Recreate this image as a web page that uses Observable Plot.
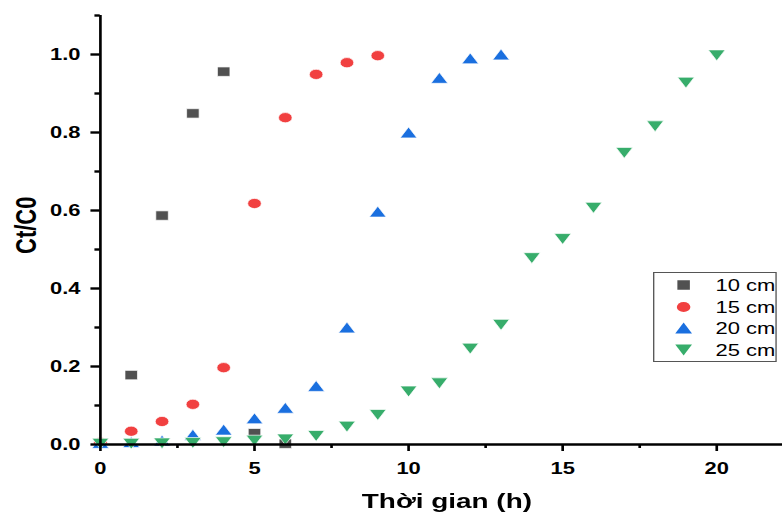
<!DOCTYPE html>
<html><head><meta charset="utf-8">
<script src="https://cdn.jsdelivr.net/npm/d3@7"></script>
<script src="https://cdn.jsdelivr.net/npm/@observablehq/plot@0.6"></script>
<style>
html,body{margin:0;padding:0;background:#fff;overflow:hidden;}
#wrap{position:relative;width:588px;height:513px;transform-origin:0 0;transform:scaleX(1.33);}
#legend{position:absolute;left:491px;top:272px;width:91px;height:88px;border:1px solid #555;background:#fff;box-sizing:content-box;font-family:"Liberation Sans",Arial,sans-serif;font-size:16.5px;color:#000;}
.row{position:absolute;left:0;height:22px;width:91px;}
.row svg{position:absolute;left:15px;top:4px;}
.row span{position:absolute;left:46px;top:2px;line-height:18px;white-space:nowrap;}
</style>
</head><body>
<div id="wrap"><div id="legend"></div></div>
<script>
// ---- data ----
const seriesNames = ["10 cm", "15 cm", "20 cm", "25 cm"];
const seriesColors = ["#515151", "#F14040", "#1A6FDF", "#37AD6B"];
const t10 = [1, 2, 3, 4, 5, 6];
const v10 = [0.178, 0.587, 0.849, 0.956, 0.029, 0.002];
const t15 = [0, 1, 2, 3, 4, 5, 6, 7, 8, 9];
const v15 = [0.005, 0.034, 0.059, 0.103, 0.197, 0.618, 0.838, 0.949, 0.979, 0.997];
const t20 = [0, 1, 2, 3, 4, 5, 6, 7, 8, 9, 10, 11, 12, 13];
const v20 = [0.004, 0.006, 0.01, 0.025, 0.038, 0.067, 0.094, 0.15, 0.30, 0.597, 0.80, 0.94, 0.99, 1.0];
const t25 = [0, 1, 2, 3, 4, 5, 6, 7, 8, 9, 10, 11, 12, 13, 14, 15, 16, 17, 18, 19, 20];
const v25 = [0.002, 0.002, 0.003, 0.004, 0.006, 0.01, 0.013, 0.022, 0.046, 0.076, 0.136, 0.157, 0.246, 0.307, 0.478, 0.527, 0.607, 0.748, 0.816, 0.928, 0.998];
const yMajor = [0, 0.2, 0.4, 0.6, 0.8, 1.0];
const yMinor = [0.1, 0.3, 0.5, 0.7, 0.9, 1.1];
const xMajor = [0, 5, 10, 15, 20];
const xMinor = [2.5, 7.5, 12.5, 17.5];
const xLabel = "Thời gian (h)";
const yLabel = "Ct/C0";

// ---- symbols ----
const symSquare = {draw(c){ c.rect(-4.7, -4.7, 9.4, 9.4); }};
const symCircle = {draw(c){ c.moveTo(5.1, 0); c.arc(0, 0, 5.1, 0, 2 * Math.PI); c.closePath(); }};
const symUp = {draw(c){ const w = 6.3, h = 10.8; c.moveTo(0, -h/2); c.lineTo(w, h/2); c.lineTo(-w, h/2); c.closePath(); }};
const symDown = {draw(c){ const w = 6.3, h = 10.8; c.moveTo(0, h/2); c.lineTo(w, -h/2); c.lineTo(-w, -h/2); c.closePath(); }};
const symbols = [symSquare, symCircle, symUp, symDown];

const series = [[t10, v10], [t15, v15], [t20, v20], [t25, v25]].map(([t, v], i) =>
  t.map((x, j) => ({t: x, v: v[j], s: seriesNames[i]})));

const W = 588;
const font = "'Liberation Sans', Arial, sans-serif";

const chart = Plot.plot({
  width: W, height: 513,
  marginLeft: 75, marginRight: 0, marginTop: 15, marginBottom: 69,
  style: {fontFamily: font, fontSize: "16.5px", fontWeight: "bold", color: "#000", background: "#fff", overflow: "visible"},
  x: {domain: [0, 22.14]},
  y: {domain: [0, 1.1]},
  marks: [
    ...series.map((d, i) => Plot.dot(d, {x: "t", y: "v", symbol: symbols[i], fill: seriesColors[i], stroke: "#fff", strokeWidth: 0.6, r: 5})),
    Plot.ruleY([0], {stroke: "#000", strokeWidth: 2.7}),
    Plot.ruleX([0], {stroke: "#000", strokeWidth: 2}),
    Plot.axisY({ticks: yMajor, tickSize: 7, tickPadding: 8, strokeWidth: 2.4, tickFormat: d3.format(".1f"), label: null}),
    Plot.axisY({ticks: yMinor, tickSize: 4, strokeWidth: 2.4, tickFormat: () => "", label: null}),
    Plot.axisX({ticks: xMajor, tickSize: 7, tickPadding: 11, strokeWidth: 2, tickFormat: d3.format("d"), label: null}),
    Plot.axisX({ticks: xMinor, tickSize: 4, strokeWidth: 2, tickFormat: () => "", label: null}),
    Plot.text([yLabel], {frameAnchor: "left", rotate: -90, dx: -64, dy: 24, lineAnchor: "top", fontSize: 22, fontWeight: "bold", fill: "#000"}),
    Plot.text([xLabel], {frameAnchor: "bottom", dx: 4, dy: 49, lineAnchor: "top", fontSize: 21, fontWeight: "bold", fill: "#000"})
  ]
});
document.getElementById("wrap").prepend(chart);

// ---- legend ----
const lg = document.getElementById("legend");
const rowTops = [0, 21.7, 43.4, 65.1];
seriesNames.forEach((name, i) => {
  const row = document.createElement("div");
  row.className = "row";
  row.style.top = (1 + rowTops[i]) + "px";
  const p = d3.path();
  symbols[i].draw(p);
  row.innerHTML = `<svg width="14" height="14" viewBox="-7 -7 14 14"><path d="${p.toString()}" fill="${seriesColors[i]}"/></svg><span>${name}</span>`;
  lg.appendChild(row);
});
</script>
</body></html>
